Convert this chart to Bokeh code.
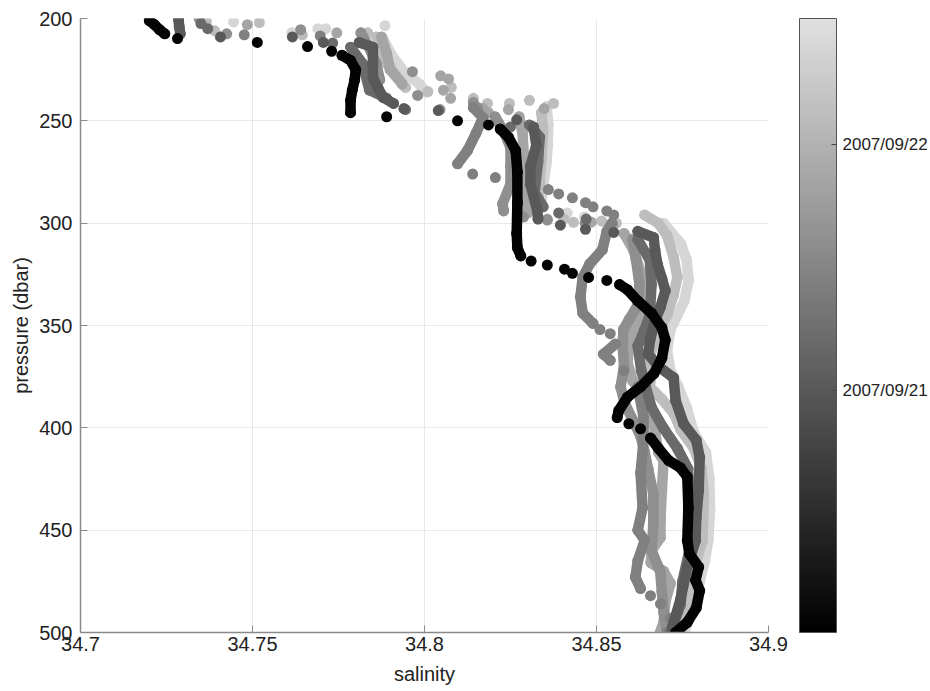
from bokeh.plotting import figure
from bokeh.models import (ColumnDataSource, LinearColorMapper, ColorBar, FixedTicker, Range1d)
from bokeh.transform import transform
from bokeh.embed import file_html
from bokeh.resources import INLINE

# ---------------- data ----------------
# time of each cast, in days after 2007/09/20 00:00
time_days = {"A": 0.05, "B": 1.01, "C": 1.20, "D": 1.44, "E": 1.61, "F": 1.85, "G": 2.12, "H": 2.40}
date_ticks = [1, 2]
date_labels = ["2007/09/21", "2007/09/22"]
x_ticks = [34.7, 34.75, 34.8, 34.85, 34.9]
x_tick_labels = ["34.7", "34.75", "34.8", "34.85", "34.9"]
y_ticks = [200, 250, 300, 350, 400, 450, 500]

# cast A (darkest)
A_seg_sal = [[34.7200, 34.7215, 34.7230, 34.7245],
             [34.7760, 34.7785, 34.7800, 34.7797, 34.7790, 34.7785, 34.7785],
             [34.8220, 34.8244, 34.8265, 34.8270, 34.8270, 34.8268, 34.8270, 34.8280],
             [34.8567, 34.8590, 34.8620, 34.8660, 34.8690, 34.8700, 34.8690, 34.8667, 34.8628, 34.8590, 34.8565, 34.8560],
             [34.8657, 34.8680, 34.8710, 34.8744, 34.8764, 34.8767, 34.8764, 34.8770, 34.8797, 34.8788, 34.8800, 34.8790, 34.8764, 34.8730]]
A_seg_p = [[201, 203, 205.5, 207.5],
           [218, 220.5, 225, 230, 235, 240, 246],
           [254, 258, 264.5, 275, 290, 305, 312, 316],
           [330, 332.5, 338, 344, 351, 357, 366, 373.5, 380, 385, 391.5, 395],
           [405, 410, 416, 419.5, 424, 439, 455, 461.5, 468, 474.5, 479.5, 488, 495, 500]]
A_dot_sal = [34.7282, 34.7514, 34.7660, 34.7730, 34.7890, 34.8096, 34.8186, 34.8310, 34.8357, 34.8407,
             34.8430, 34.8477, 34.8530, 34.8594, 34.8628]
A_dot_p = [209.8, 211.7, 213.7, 216, 248, 250, 252, 318.5, 320.5, 322.5, 324.5, 326.5, 328, 398, 400.5]

# cast B
B_seg_sal = [[34.7285, 34.7287, 34.7290],
             [34.7810, 34.7850, 34.7850, 34.7850, 34.7865, 34.7880, 34.7910],
             [34.8317, 34.8325, 34.8308, 34.8308, 34.8328, 34.8330],
             [34.8620, 34.8666, 34.8670, 34.8677, 34.8690, 34.8700, 34.8686, 34.8670, 34.8657, 34.8650, 34.8680,
              34.8724, 34.8730, 34.8753, 34.8790, 34.8800, 34.8797, 34.8790, 34.8788, 34.8764, 34.8744, 34.8720]]
B_seg_p = [[200.5, 204, 207.5],
           [211.7, 214, 222, 229, 234, 238.6, 241.5],
           [253, 262, 272, 281, 294, 298],
           [304, 307, 313, 320, 327, 333, 341, 348, 356, 364, 370, 375.5, 386.6, 398, 406, 414.5, 430.6, 443.8,
            455, 468, 484, 497.6]]
B_dot_sal = [34.7407, 34.7616, 34.7706, 34.7940, 34.8040, 34.8268, 34.8395, 34.8468, 34.8550]
B_dot_p = [209, 209, 211.7, 244, 245, 249.5, 301, 303, 304.5]

# cast C
C_seg_sal = [[34.7785, 34.7820, 34.7840, 34.7890],
             [34.8305, 34.8335, 34.8330, 34.8320, 34.8345],
             [34.8620, 34.8655, 34.8660, 34.8655, 34.8640, 34.8620, 34.8630, 34.8660, 34.8694, 34.8735, 34.8766,
              34.8773, 34.8770, 34.8750, 34.8744, 34.8715]]
C_seg_p = [[214, 222, 235, 239],
           [252, 258, 270, 285, 292],
           [308, 318, 330, 345, 352, 360, 372, 390, 400, 410, 420, 440, 460, 475, 486.5, 500]]
C_dot_sal = [34.7350, 34.7370, 34.7733, 34.7945, 34.8250, 34.8390, 34.8470]
C_dot_p = [202.5, 205, 212, 244.5, 253, 295, 298]

# cast D
D_seg_sal = [[34.8142, 34.8170, 34.8150, 34.8125, 34.8096],
             [34.8545, 34.8530, 34.8517, 34.8480, 34.8460, 34.8453, 34.8460, 34.8490],
             [34.8555, 34.8520, 34.8540],
             [34.8620, 34.8637, 34.8637, 34.8628, 34.8634, 34.8620, 34.8640, 34.8620, 34.8613, 34.8628]]
D_seg_p = [[243.5, 248.5, 256, 264.5, 271],
           [300, 304, 313, 320, 326.5, 336, 344, 349],
           [359, 364, 367],
           [380, 395, 406, 422, 439, 450, 455, 465, 473, 478.5]]
D_dot_sal = [34.7476, 34.7697, 34.8140, 34.8206, 34.8360, 34.8390, 34.8430, 34.8468, 34.8490, 34.8530,
             34.8550, 34.8510, 34.8540, 34.8580, 34.8657, 34.8686, 34.8715, 34.8705]
D_dot_p = [208, 208.5, 276, 277.7, 283.6, 285.7, 287.6, 290, 292, 294, 296, 352, 354, 372, 482, 486, 493, 500]

# cast E
E_seg_sal = [[34.7815, 34.7835, 34.7860, 34.7870],
             [34.8205, 34.8230, 34.8250, 34.8250, 34.8250, 34.8227, 34.8230],
             [34.8605, 34.8615, 34.8625, 34.8620, 34.8595, 34.8578, 34.8576, 34.8580, 34.8570, 34.8582, 34.8605,
              34.8628, 34.8640, 34.8650, 34.8665, 34.8665, 34.8660, 34.8685, 34.8690, 34.8695, 34.8705]]
E_seg_p = [[207, 213, 222, 230],
           [248, 255, 263, 272, 281, 290.5, 294],
           [308, 318, 330, 340, 347, 352, 360, 370, 380, 388, 396, 404, 412, 420, 432, 448, 460, 470, 480, 490, 500]]
E_dot_sal = [34.7345, 34.7425, 34.7640, 34.7965, 34.7980, 34.8045, 34.8142, 34.8155, 34.8288, 34.8357, 34.8467]
E_dot_p = [200, 207.5, 205.5, 226, 237.6, 244.5, 241, 243.5, 297, 298.5, 300]

# cast F
F_seg_sal = [[34.7875, 34.7890, 34.7900, 34.7935],
             [34.8275, 34.8285, 34.8290, 34.8285, 34.8300],
             [34.8580, 34.8607, 34.8630, 34.8645, 34.8635, 34.8610, 34.8595, 34.8590, 34.8605, 34.8640, 34.8660,
              34.8670, 34.8680, 34.8695, 34.8690, 34.8686, 34.8686, 34.8660, 34.8658, 34.8695, 34.8715, 34.8700,
              34.8695, 34.8685]]
F_seg_p = [[209, 217, 225, 232],
           [248, 256, 270, 285, 295],
           [305, 313, 324.6, 335, 345, 352, 360, 368, 377, 385, 392, 402, 412, 416, 430.6, 445, 453.6, 460, 466,
            470, 476, 485, 495, 500]]
F_dot_sal = [34.7485, 34.7745, 34.8047, 34.8070, 34.8055, 34.8076, 34.8170, 34.8186, 34.8244, 34.8348,
             34.8357, 34.8485, 34.8547]
F_dot_p = [203, 207, 228, 229.5, 235, 239, 244, 246, 244.5, 244, 298, 299.5, 301]

# cast G
G_seg_sal = [[34.7860, 34.7890, 34.7945],
             [34.8340, 34.8345, 34.8340, 34.8335, 34.8330],
             [34.8640, 34.8680, 34.8705, 34.8724, 34.8735, 34.8724, 34.8705, 34.8675, 34.8655, 34.8660, 34.8655,
              34.8690, 34.8725, 34.8745, 34.8783, 34.8805, 34.8812, 34.8810, 34.8808, 34.8790, 34.8775, 34.8765,
              34.8745, 34.8730]]
G_seg_p = [[209, 222, 233.7],
           [246, 255, 268, 280, 292],
           [296, 300, 306, 316.6, 326.5, 335, 345, 355, 365, 372, 380, 386, 393, 401, 410, 420, 432, 445, 455,
            465, 475, 486, 495, 500]]
G_dot_sal = [34.7366, 34.7390, 34.7406, 34.7520, 34.7645, 34.7835, 34.8010, 34.8078, 34.8142, 34.8183,
             34.8247, 34.8305, 34.8375, 34.8405, 34.8433, 34.8515, 34.8558]
G_dot_p = [201.5, 206, 209, 202, 208, 207, 235.7, 233.6, 239, 241.5, 241.5, 240, 241.5, 298, 299.6, 299, 300]

# cast H (lightest)
H_seg_sal = [[34.7880, 34.7905, 34.7940, 34.7985, 34.8005],
             [34.8355, 34.8360, 34.8358, 34.8355, 34.8345, 34.8340],
             [34.8695, 34.8745, 34.8762, 34.8768, 34.8755, 34.8735, 34.8715, 34.8705, 34.8715, 34.8738, 34.8762,
              34.8782, 34.8818, 34.8828, 34.8830, 34.8825, 34.8815, 34.8800, 34.8785, 34.8765, 34.8755]]
H_seg_p = [[210, 218, 226, 232, 236],
           [243, 252, 262, 270, 282, 290],
           [300, 310, 318, 328, 338, 345, 352, 362, 372, 380, 390, 402, 412, 425, 440, 455, 465, 475, 485, 495, 500]]
H_dot_sal = [34.7445, 34.7614, 34.7690, 34.7713, 34.7885, 34.8415, 34.8465]
H_dot_p = [201.7, 207, 205, 205, 203.5, 295, 297]

casts = [
    ("H", H_seg_sal, H_seg_p, H_dot_sal, H_dot_p),
    ("G", G_seg_sal, G_seg_p, G_dot_sal, G_dot_p),
    ("F", F_seg_sal, F_seg_p, F_dot_sal, F_dot_p),
    ("E", E_seg_sal, E_seg_p, E_dot_sal, E_dot_p),
    ("D", D_seg_sal, D_seg_p, D_dot_sal, D_dot_p),
    ("C", C_seg_sal, C_seg_p, C_dot_sal, C_dot_p),
    ("B", B_seg_sal, B_seg_p, B_dot_sal, B_dot_p),
    ("A", A_seg_sal, A_seg_p, A_dot_sal, A_dot_p),
]

# ---------------- figure ----------------
FONT = "Liberation Sans"
levels = [round(224 * i / 255) for i in range(256)]
palette = ["#%02x%02x%02x" % (v, v, v) for v in levels]
mapper = LinearColorMapper(palette=palette, low=0.016, high=2.512)

p = figure(frame_width=688, frame_height=614, output_backend="svg", toolbar_location=None,
           x_range=Range1d(34.7, 34.9), y_range=Range1d(500, 200),
           min_border_left=80, min_border_top=18, min_border_bottom=50, min_border_right=10,
           background_fill_color="white", border_fill_color="white")
p.outline_line_color = None

for name, seg_sal, seg_p, dot_sal, dot_p in casts:
    t = time_days[name]
    ml = ColumnDataSource(dict(xs=seg_sal, ys=seg_p, t=[t] * len(seg_sal)))
    p.multi_line("xs", "ys", source=ml, line_width=10.5, line_cap="round", line_join="round",
                 line_color=transform("t", mapper))
    xs = [v for s in seg_sal for v in s] + list(dot_sal)
    ys = [v for s in seg_p for v in s] + list(dot_p)
    sc = ColumnDataSource(dict(x=xs, y=ys, t=[t] * len(xs)))
    p.scatter("x", "y", source=sc, size=11, line_color=None,
              fill_color=transform("t", mapper))

p.xaxis.ticker = FixedTicker(ticks=x_ticks)
p.xaxis.major_label_overrides = {k: v for k, v in zip(x_ticks, x_tick_labels)}
p.yaxis.ticker = FixedTicker(ticks=y_ticks)
p.xaxis.axis_label = "salinity"
p.yaxis.axis_label = "pressure (dbar)"
for ax in (p.xaxis, p.yaxis):
    ax.axis_line_color = "#8a8a8a"
    ax.axis_line_width = 1.5
    ax.major_tick_line_color = "#8a8a8a"
    ax.major_tick_in = 7
    ax.major_tick_out = 0
    ax.minor_tick_line_color = None
    ax.major_label_text_font = FONT
    ax.major_label_text_font_size = "20px"
    ax.major_label_text_color = "#222222"
    ax.axis_label_text_font = FONT
    ax.axis_label_text_font_size = "20px"
    ax.axis_label_text_font_style = "normal"
    ax.axis_label_text_color = "#222222"
p.xaxis.major_label_standoff = 4
p.xaxis.axis_label_standoff = 9
p.yaxis.major_label_standoff = 8
p.yaxis.axis_label_standoff = 4
p.grid.grid_line_color = "#e8e8e8"
p.xgrid.ticker = FixedTicker(ticks=x_ticks)
p.ygrid.ticker = FixedTicker(ticks=y_ticks)

cb = ColorBar(color_mapper=mapper, ticker=FixedTicker(ticks=date_ticks),
              major_label_overrides={k: v for k, v in zip(date_ticks, date_labels)},
              width=37, padding=0, margin=0, location=(31, 0), bar_line_color="#555555",
              major_tick_line_color="#444444", major_tick_in=5, major_tick_out=0,
              minor_tick_line_color=None, label_standoff=6,
              major_label_text_font=FONT, major_label_text_font_size="17px",
              major_label_text_color="#222222", background_fill_color=None)
p.add_layout(cb, "right")

open("out.html", "w").write(file_html(p, INLINE))
